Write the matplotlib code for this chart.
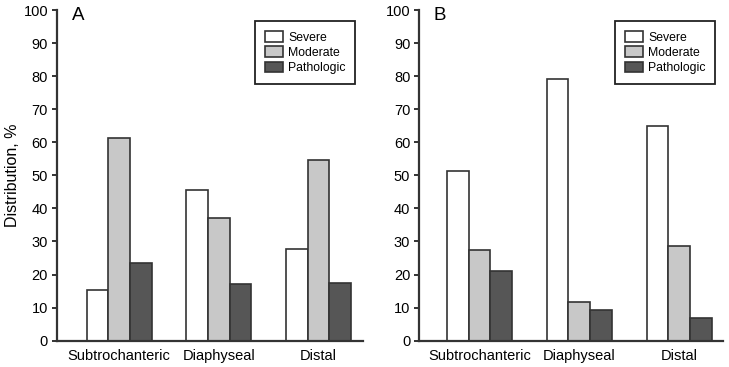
import matplotlib
matplotlib.use('Agg')
import matplotlib.pyplot as plt
import numpy as np

plt.rcParams['font.family'] = ['Liberation Sans', 'DejaVu Sans']

categories = ['Subtrochanteric', 'Diaphyseal', 'Distal']
series = ['Severe', 'Moderate', 'Pathologic']

# panel A values (%)
a_severe = [15.2, 45.5, 27.7]
a_moderate = [61.2, 37.0, 54.6]
a_pathologic = [23.5, 17.1, 17.4]

# panel B values (%)
b_severe = [51.4, 79.0, 64.8]
b_moderate = [27.4, 11.7, 28.6]
b_pathologic = [21.1, 9.2, 6.8]

colors = ['white', '#c8c8c8', '#565656']
edge = '#333333'

fig = plt.figure(figsize=(7.29, 3.67), dpi=100)
axA = fig.add_axes([0.078, 0.0717, 0.420, 0.901])
axB = fig.add_axes([0.5748, 0.0717, 0.417, 0.901])

x = np.arange(len(categories))
w = 0.217

def draw(ax, data, letter, xlim):
    for i, (vals, col, name) in enumerate(zip(data, colors, series)):
        ax.bar(x + (i - 1) * w, vals, w, color=col, edgecolor=edge,
               linewidth=1.2, label=name)
    ax.set_ylim(0, 100)
    ax.set_xlim(*xlim)
    ax.set_yticks(range(0, 101, 10))
    ax.set_xticks(x)
    ax.set_xticklabels(categories, fontsize=10.5)
    ax.tick_params(axis='x', length=0, pad=6)
    ax.tick_params(axis='y', labelsize=10.5, length=3.8, width=1.4,
                   color=edge, pad=2.5)
    for s in ['top', 'right']:
        ax.spines[s].set_visible(False)
    for s in ['left', 'bottom']:
        ax.spines[s].set_linewidth(1.6)
        ax.spines[s].set_color(edge)
    ax.text(0.049, 1.01, letter, transform=ax.transAxes, fontsize=13.5,
            va='top', ha='left')
    leg = ax.legend(loc='upper right', bbox_to_anchor=(0.975, 0.966),
                    fontsize=8.8, fancybox=False, framealpha=1,
                    handlelength=1.5, handleheight=0.95, handletextpad=0.4,
                    labelspacing=0.24, borderpad=0.8, borderaxespad=0)
    leg.get_frame().set_edgecolor('#222222')
    leg.get_frame().set_linewidth(1.3)

draw(axA, [a_severe, a_moderate, a_pathologic], 'A', (-0.625, 2.445))
draw(axB, [b_severe, b_moderate, b_pathologic], 'B', (-0.605, 2.44))
axA.set_ylabel('Distribution, %', fontsize=11.5)
axA.yaxis.set_label_coords(-0.122, 0.5)

fig.savefig('out.png', dpi=100)
